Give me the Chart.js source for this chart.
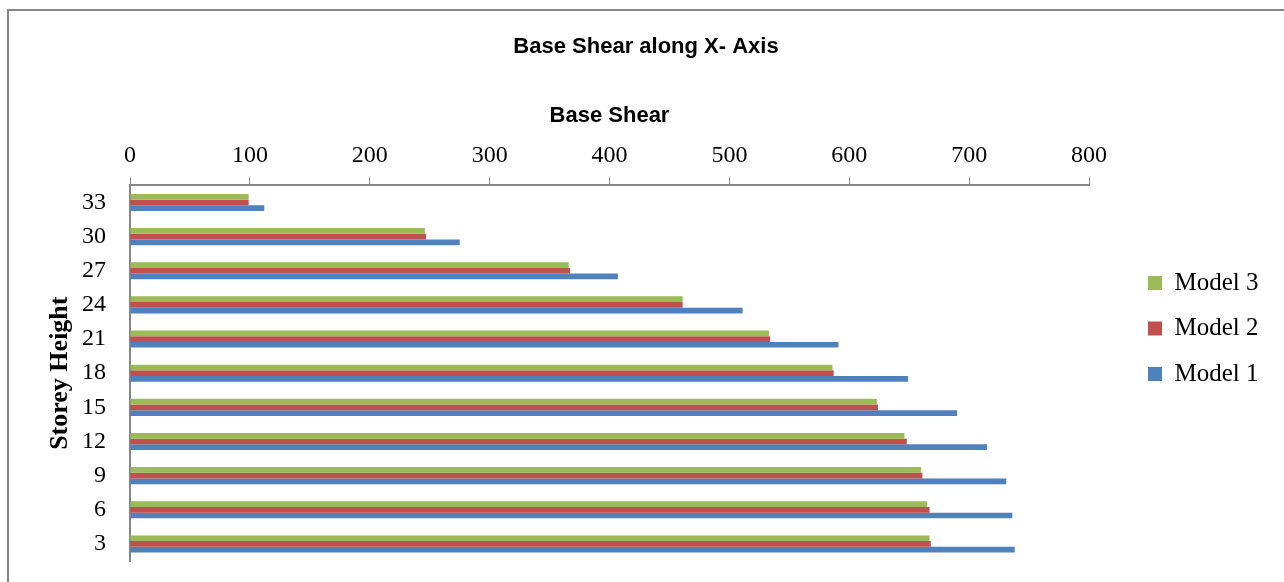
<!DOCTYPE html>
<html>
<head>
<meta charset="utf-8">
<title>Base Shear along X- Axis</title>
<script src="https://cdn.jsdelivr.net/npm/chart.js@4"></script>
<style>
  html, body { margin: 0; padding: 0; background: #ffffff; }
  #wrap { position: relative; width: 1284px; height: 582px; }
</style>
</head>
<body>
<div id="wrap"><canvas id="chart" width="1284" height="582"></canvas></div>
<script>
// Storey levels (top to bottom) and base shear per model
const storeys = ['33', '30', '27', '24', '21', '18', '15', '12', '9', '6', '3'];
const model1 = [112, 275, 407, 511, 591, 649, 690, 715, 731, 736, 738];
const model2 = [99, 247, 367, 461, 534, 587, 624, 648, 661, 667, 668];
const model3 = [99, 246, 366, 461, 533, 586, 623, 646, 660, 665, 667];
const shearTicks = [0, 100, 200, 300, 400, 500, 600, 700, 800];

const AXIS_GREY = '#868686';
const SERIF = "'Liberation Serif', 'Times New Roman', serif";
const SANS = "'Liberation Sans', Arial, sans-serif";

// Frame around the chart, title centring and placement of the legend block
const framePlugin = {
  id: 'frame',
  afterLayout(chart) {
    const tb = chart.titleBlock;
    if (tb) { tb.left = 0; tb.right = 1292; }
    const lg = chart.legend;
    if (!lg) return;
    const pad = lg.options.labels.padding;
    const size = lg.options.labels.font.size;
    const boxLeft = 1148, firstCenter = 283;
    lg.left = boxLeft - pad;
    lg.right = chart.width;
    lg.top = firstCenter - pad - size / 2;
    lg.bottom = chart.height;
  },
  beforeDraw(chart) {
    const ctx = chart.ctx;
    ctx.save();
    ctx.fillStyle = '#ffffff';
    ctx.fillRect(0, 0, chart.width, chart.height);
    ctx.strokeStyle = '#878787';
    ctx.lineWidth = 2;
    ctx.strokeRect(8, 10, chart.width + 20, chart.height + 20);
    ctx.restore();
  }
};

new Chart(document.getElementById('chart'), {
  type: 'bar',
  data: {
    labels: storeys,
    datasets: [
      { label: 'Model 3', data: model3, backgroundColor: '#9BBB59' },
      { label: 'Model 2', data: model2, backgroundColor: '#C0504D' },
      { label: 'Model 1', data: model1, backgroundColor: '#4F81BD' }
    ]
  },
  options: {
    indexAxis: 'y',
    responsive: false,
    animation: false,
    events: [],
    layout: { padding: { left: 0, top: 0, right: 95, bottom: 21 } },
    datasets: { bar: { categoryPercentage: 0.5, barPercentage: 1.0, borderWidth: 0 } },
    scales: {
      x: {
        position: 'top',
        min: 0,
        max: 800,
        afterBuildTicks(scale) { scale.ticks = shearTicks.map(v => ({ value: v })); },
        afterFit(scale) { scale.height = 115; },
        ticks: { color: '#000', font: { family: SERIF, size: 24 }, padding: 7, maxRotation: 0 },
        grid: { display: true, drawOnChartArea: false, drawTicks: true, tickLength: 8, color: AXIS_GREY, lineWidth: 1 },
        border: { display: true, color: AXIS_GREY, width: 2 },
        title: {
          display: true, text: 'Base Shear', color: '#000',
          font: { family: SANS, size: 22, weight: 'bold' },
          padding: { top: 32, bottom: 0 }
        }
      },
      y: {
        afterFit(scale) {
          scale.width = 130;
          scale.paddingTop = 0;
          scale.paddingBottom = 0;
        },
        ticks: { color: '#000', font: { family: SERIF, size: 24 }, padding: 24 },
        grid: { display: false, drawTicks: false, tickLength: 0 },
        border: { display: true, color: AXIS_GREY, width: 2 },
        title: {
          display: true, text: 'Storey Height', color: '#000',
          font: { family: SERIF, size: 26, weight: 'bold' },
          padding: { top: 45, bottom: 0 }
        }
      }
    },
    plugins: {
      title: {
        display: true,
        text: 'Base Shear along X- Axis',
        color: '#000',
        font: { family: SANS, size: 22, weight: 'bold' },
        padding: { top: 34, bottom: 10 }
      },
      legend: {
        position: 'right',
        align: 'start',
        maxWidth: 100,
        labels: {
          color: '#000',
          font: { family: SERIF, size: 25 },
          boxWidth: 14,
          boxHeight: 14,
          padding: 20.5
        }
      },
      tooltip: { enabled: false }
    }
  },
  plugins: [framePlugin]
});
</script>
</body>
</html>
